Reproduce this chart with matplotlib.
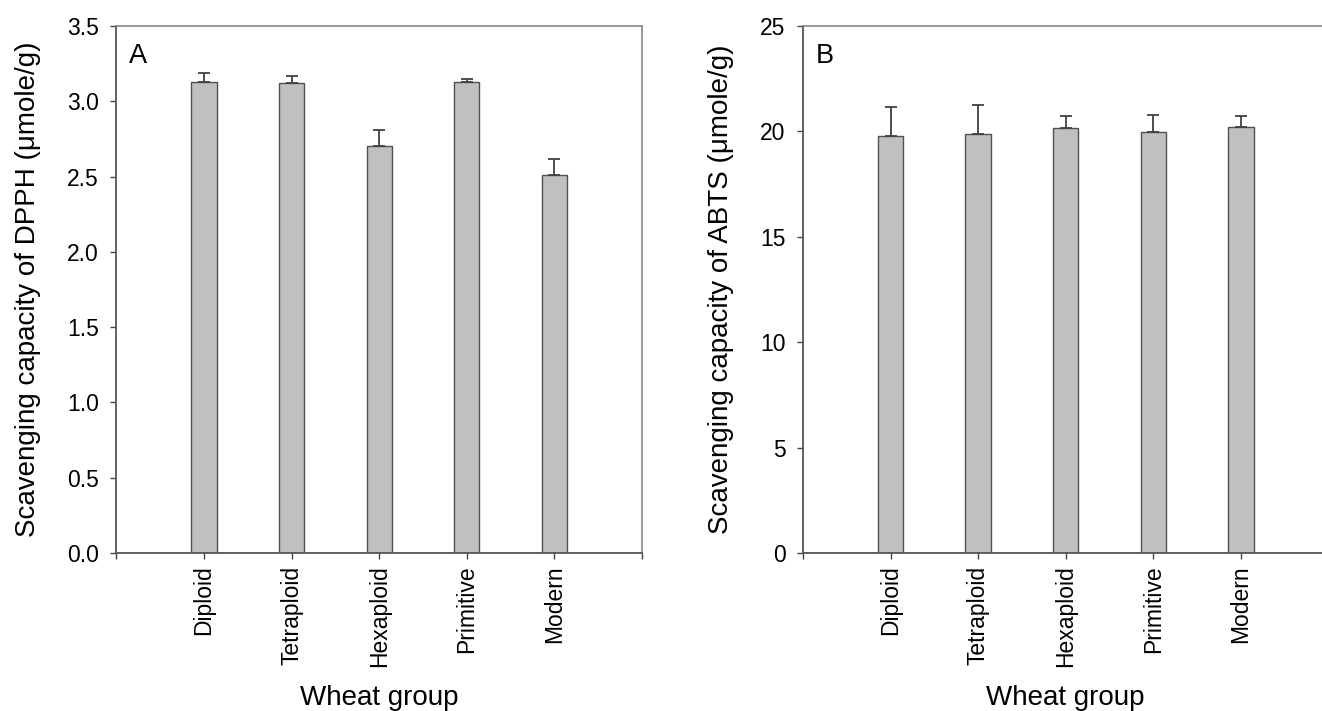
import matplotlib
matplotlib.use("Agg")
import matplotlib.pyplot as plt
import numpy as np

plt.rcParams['font.family'] = ['Liberation Sans', 'DejaVu Sans']

# wheat groups
groups = ['Diploid', 'Tetraploid', 'Hexaploid', 'Primitive', 'Modern']

# A: DPPH scavenging capacity (umole/g)
dpph_mean = [3.125, 3.12, 2.70, 3.125, 2.51]
dpph_err = [0.06, 0.05, 0.11, 0.02, 0.11]

# B: ABTS scavenging capacity (umole/g)
abts_mean = [19.76, 19.88, 20.17, 19.95, 20.20]
abts_err = [1.40, 1.35, 0.58, 0.85, 0.55]

fig = plt.figure(figsize=(13.22, 7.11), dpi=100)
axA = fig.add_axes([0.0881, 0.2222, 0.3975, 0.7412])
axB = fig.add_axes([0.6074, 0.2222, 0.3975, 0.7412])

def draw(ax, means, errs, ylim, yticks, fmt, ylabel, letter):
    x = np.arange(1, len(groups) + 1)
    ax.bar(x, means, width=0.29, color='#c0c0c0', edgecolor='#505050', linewidth=1.0, zorder=2)
    ax.errorbar(x, means, yerr=[np.zeros(len(errs)), errs], fmt='none',
                ecolor='#404040', elinewidth=1.3, capsize=4.5, capthick=1.3, zorder=3)
    ax.set_xlim(0, 6)
    ax.set_ylim(*ylim)
    ax.set_yticks(yticks)
    ax.set_yticklabels([fmt.format(v) for v in yticks])
    ax.set_xticks(range(0, 7))
    ax.set_xticklabels([''] + groups + [''], rotation=90)
    ax.tick_params(direction='out', length=4.5, width=1.0, color='#444444')
    ax.tick_params(axis='y', labelsize=16.5, pad=8)
    ax.tick_params(axis='x', labelsize=16.5, pad=4.5)
    for s in ['left', 'bottom']:
        ax.spines[s].set_color('#555555')
        ax.spines[s].set_linewidth(1.3)
    for s in ['top', 'right']:
        ax.spines[s].set_color('#888888')
        ax.spines[s].set_linewidth(1.2)
    ax.set_ylabel(ylabel, fontsize=20, labelpad=19)
    ax.set_xlabel('Wheat group', fontsize=20, labelpad=13)
    ax.text(0.024, 0.968, letter, transform=ax.transAxes, fontsize=19.5, va='top', ha='left')

draw(axA, dpph_mean, dpph_err, (0, 3.5), [0.0, 0.5, 1.0, 1.5, 2.0, 2.5, 3.0, 3.5], '{:.1f}',
     'Scavenging capacity of DPPH (\u03bcmole/g)', 'A')
draw(axB, abts_mean, abts_err, (0, 25), [0, 5, 10, 15, 20, 25], '{:d}',
     'Scavenging capacity of ABTS (\u03bcmole/g)', 'B')

fig.savefig('out.png', dpi=100)
